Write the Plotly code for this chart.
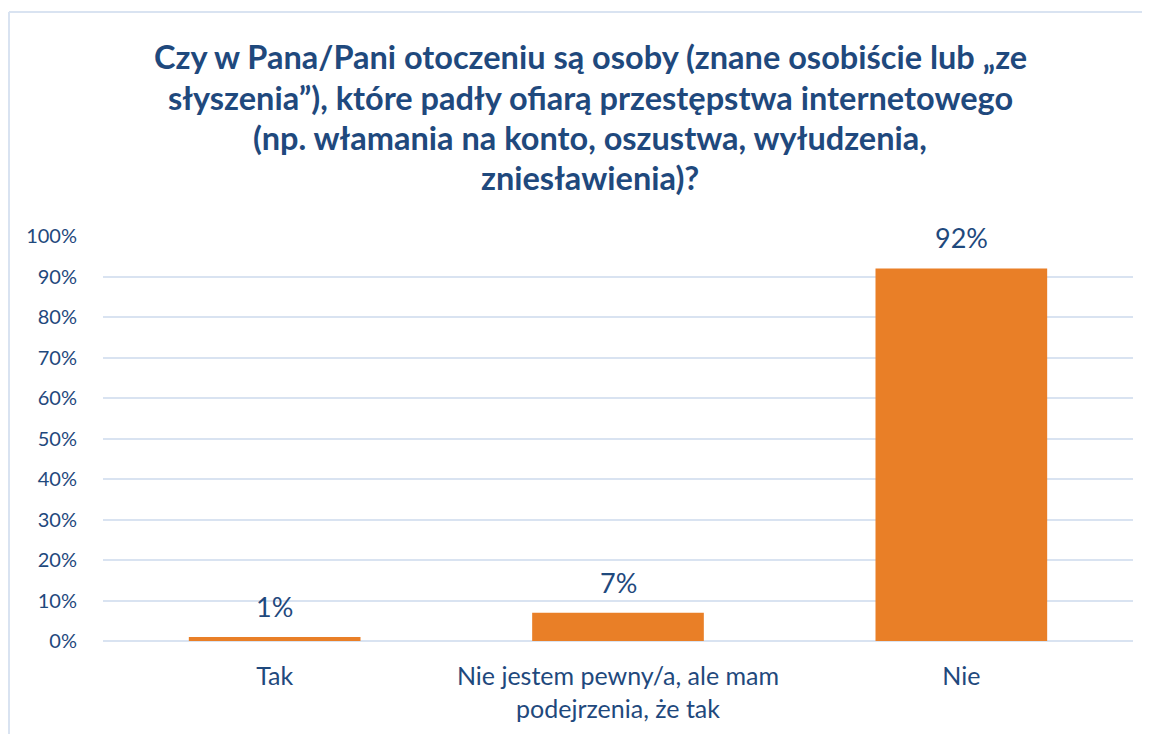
import plotly.graph_objects as go

categories = ["Tak", "Nie jestem pewny/a, ale mam<br>podejrzenia, że tak", "Nie"]
values = [0.01, 0.07, 0.92]
labels = ["1%", "7%", "92%"]
title_lines = [
    "Czy w Pana/Pani otoczeniu są osoby (znane osobiście lub „ze",
    "słyszenia”), które padły ofiarą przestępstwa internetowego",
    "(np. włamania na konto, oszustwa, wyłudzenia,",
    "zniesławienia)?",
]

TEXT = "#1F497D"
FONT = "Lato"
GRID = "#D9E3F1"

# page body has an 8px default margin; plot area in figure px: x 95..1125, y 228..633
W, H = 1142, 726
L, R, T, B = 95, 1125, 228, 633
PW, PH = R - L, B - T


def px(x):
    return (x - L) / PW


def py(y):
    return (B - y) / PH


fig = go.Figure()
fig.add_trace(go.Bar(
    x=categories, y=values, width=0.5,
    marker=dict(color="#E97F27", line=dict(width=0)),
    cliponaxis=False,
))

for c, v, t in zip(categories, values, labels):
    fig.add_annotation(x=c, y=v, text=t, showarrow=False, yanchor="bottom",
                       yshift=12, font=dict(size=27, color=TEXT, family=FONT))

title_y = [48, 89, 129, 170]
for line, yy in zip(title_lines, title_y):
    fig.add_annotation(text="<b>" + line + "</b>", x=px(582), y=py(yy),
                       xref="paper", yref="paper", xanchor="center", yanchor="middle",
                       showarrow=False, font=dict(size=32.5, color=TEXT, family=FONT))

fig.update_layout(
    width=W, height=H,
    margin=dict(l=L, r=W - R, t=T, b=H - B),
    plot_bgcolor="white", paper_bgcolor="white",
    showlegend=False,
    font=dict(family=FONT, color=TEXT),
)
fig.update_yaxes(range=[0, 1], dtick=0.1, tickformat=".0%", showgrid=True,
                 gridcolor=GRID, gridwidth=2, zeroline=True, zerolinecolor=GRID,
                 zerolinewidth=2, ticks="", tickfont=dict(size=20, color=TEXT, family=FONT),
                 ticklabelstandoff=25, showline=False)
fig.update_xaxes(tickfont=dict(size=25, color=TEXT, family=FONT), ticks="", showline=False,
                 ticklabelstandoff=18)

# chart border (top and left edges)
fig.add_shape(type="line", xref="paper", yref="paper",
              x0=px(1), x1=px(W + 10), y0=py(4), y1=py(4),
              line=dict(color=GRID, width=2))
fig.add_shape(type="line", xref="paper", yref="paper",
              x0=px(1), x1=px(1), y0=py(4), y1=py(H + 10),
              line=dict(color=GRID, width=2))

fig.write_html("out.html", config={"displayModeBar": False})
